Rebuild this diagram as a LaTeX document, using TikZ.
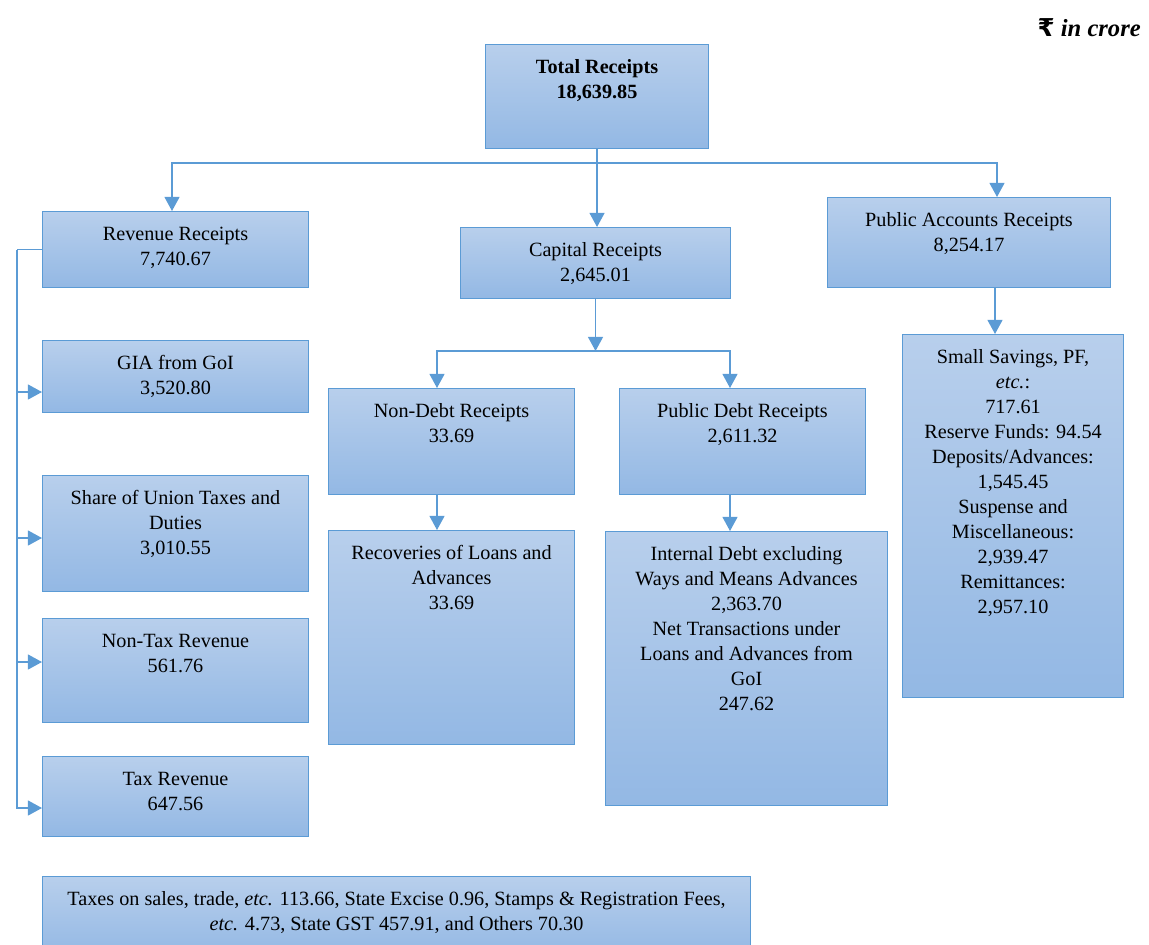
\documentclass[tikz,border=0pt]{standalone}
\usepackage{fontspec}
\setmainfont{Liberation Serif}
\newfontfamily\rupeefont{DejaVu Sans}
\usetikzlibrary{arrows.meta,positioning,shadings}
\definecolor{rcptline}{RGB}{91,155,213}
\definecolor{rcpttop}{RGB}{184,207,236}
\definecolor{rcptbot}{RGB}{147,184,228}
\newdimen\px \px=0.02cm
\newcommand{\fl}{\rule{0pt}{29\px}}
\tikzstyle{wire} = [draw=rcptline, line width=0.75pt]
\tikzstyle{line} = [wire, -{Triangle[length=8pt, width=8.5pt]}]
\tikzstyle{rcpt} = [draw=rcptline, line width=0.6pt, top color=rcpttop, bottom color=rcptbot, anchor=north west, inner sep=0pt, font=\fontsize{11.5}{14.2}\selectfont]

\begin{document}
\begin{tikzpicture}[x=0.02cm, y=-0.02cm]
\useasboundingbox (0,0) rectangle (1149,944);

\node [anchor=east, font=\fontsize{14}{16}\selectfont\bfseries\itshape] (unit) at (1147,28) {{\rupeefont\upshape ₹} in crore};

% top level
\node [rcpt] (total) at (485,44) {\parbox[c][104\px][t]{223\px}{\centering\bfseries\fl Total Receipts\\ 18,639.85}};
\node [rcpt] (rev) at (42,211) {\parbox[c][76\px][t]{266\px}{\centering\fl Revenue Receipts\\ 7,740.67}};
\node [rcpt] (cap) at (460,227) {\parbox[c][71\px][t]{270\px}{\centering\fl Capital Receipts\\ 2,645.01}};
\node [rcpt] (pub) at (827,197) {\parbox[c][90\px][t]{283\px}{\centering\fl Public Accounts Receipts\\ 8,254.17}};

% revenue side
\node [rcpt] (gia) at (42,340) {\parbox[c][72\px][t]{266\px}{\centering\fl GIA from GoI\\ 3,520.80}};
\node [rcpt] (share) at (42,475) {\parbox[c][116\px][t]{266\px}{\centering\fl Share of Union Taxes and\\ Duties\\ 3,010.55}};
\node [rcpt] (nontax) at (42,618) {\parbox[c][104\px][t]{266\px}{\centering\fl Non-Tax Revenue\\ 561.76}};
\node [rcpt] (tax) at (42,756) {\parbox[c][80\px][t]{266\px}{\centering\fl Tax Revenue\\ 647.56}};
\node [rcpt] (others) at (42,876) {\parbox[c][80\px][t]{708\px}{\centering\fl Taxes on sales, trade, \textit{etc.} 113.66, State Excise 0.96, Stamps \& Registration Fees,\\ \textit{etc.} 4.73, State GST 457.91, and Others 70.30}};

% capital side
\node [rcpt] (nondebt) at (328,388) {\parbox[c][106\px][t]{246\px}{\centering\fl Non-Debt Receipts\\ 33.69}};
\node [rcpt] (pubdebt) at (619,388) {\parbox[c][106\px][t]{246\px}{\centering\fl Public Debt Receipts\\ 2,611.32}};
\node [rcpt] (recov) at (328,530) {\parbox[c][214\px][t]{246\px}{\centering\fl Recoveries of Loans and\\ Advances\\ 33.69}};
\node [rcpt] (intdebt) at (605,531) {\parbox[c][274\px][t]{282\px}{\centering\fl Internal Debt excluding\\ Ways and Means Advances\\ 2,363.70\\ Net Transactions under\\ Loans and Advances from\\ GoI\\ 247.62}};

% public accounts side
\node [rcpt] (savings) at (902,334) {\parbox[c][363\px][t]{221\px}{\centering\fl Small Savings, PF,\\ \textit{etc.}:\\ 717.61\\ Reserve Funds: 94.54\\ Deposits/Advances:\\ 1,545.45\\ Suspense and\\ Miscellaneous:\\ 2,939.47\\ Remittances:\\ 2,957.10}};

% connectors
\coordinate (hub) at (total.south |- 0,163);
\draw [wire] (total.south) -- (hub);
\draw [line] (hub) -| (172,0 |- rev.north);
\draw [line] (hub) -- (hub |- cap.north);
\draw [line] (hub) -| (997,0 |- pub.north);

\coordinate (capjoin) at (cap.south |- 0,351);
\draw [line] (cap.south) -- (capjoin);
\draw [line] (capjoin) -| (437,0 |- nondebt.north);
\draw [line] (capjoin) -| (730,0 |- pubdebt.north);
\draw [line] (437,0 |- nondebt.south) -- (437,0 |- recov.north);
\draw [line] (730,0 |- pubdebt.south) -- (730,0 |- intdebt.north);
\draw [line] (995,0 |- pub.south) -- (995,0 |- savings.north);

\coordinate (rail) at (17,0 |- rev.west);
\draw [wire] (rev.west) -- (rail);
\draw [line] (rail) |- (tax.west |- 0,808);
\foreach \b/\y in {gia/392, share/538, nontax/662}
  \draw [line] (rail |- 0,\y) -- (\b.west |- 0,\y);
\end{tikzpicture}
\end{document}
